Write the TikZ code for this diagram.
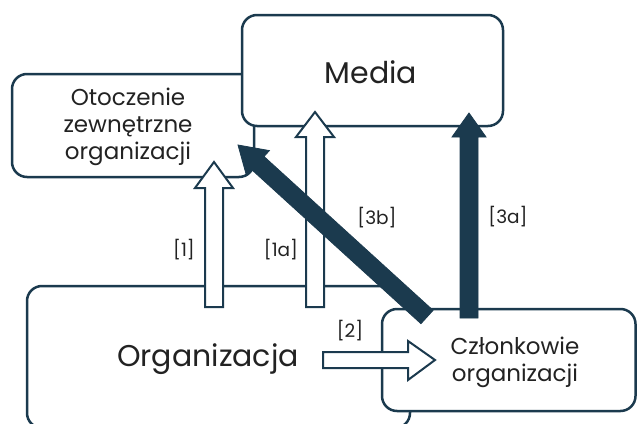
\documentclass[tikz,border=0pt]{standalone}
\usepackage{fontspec}
\setmainfont{Poppins}
\usetikzlibrary{calc}
\definecolor{navy}{HTML}{1B3A4E}
\definecolor{ink}{HTML}{222222}
\begin{document}
\begin{tikzpicture}[x=1pt,y=-1pt,
  box/.style={draw=navy, line width=2.5pt, rounded corners=15pt, fill=white, inner sep=0pt, outer sep=0pt, anchor=north west},
  harrow/.style={draw=navy, line width=2pt, fill=white, line join=miter},
  darrow/.style={draw=navy, fill=navy, line width=0.8pt, line join=miter},
  lbl/.style={text=ink, inner sep=0pt, font=\fontsize{18.5}{20}\selectfont},
  smalltxt/.style={text=ink, inner sep=0pt, align=center, font=\fontsize{23}{27}\selectfont},
  bigtxt/.style={text=ink, inner sep=0pt, font=\fontsize{30}{32}\selectfont}]
\useasboundingbox (0,0) rectangle (637,423);
% boxes
\node[box, minimum width=242pt, minimum height=103pt] (oto) at (12,74) {};
\node[box, minimum width=261pt, minimum height=111pt] (media) at (242,15) {};
\node[box, minimum width=383pt, minimum height=142pt] (org) at (27,286) {};
\node[box, minimum width=253.5pt, minimum height=102pt] (czl) at (382,309) {};
% texts
\node[smalltxt] (ototxt) at (128,127) {Otoczenie\\zewnętrzne\\organizacji};
\node[bigtxt] (mediatxt) at (371,72) {Media};
\node[bigtxt] (orgtxt) at (208,359) {Organizacja};
\node[smalltxt] (czltxt) at (515,362) {Członkowie\\organizacji};
% hollow arrow [1]
\coordinate (t1) at (214,162);
\draw[harrow] (205,307) -- (205,188) -- (195,188) -- (t1) -- (233,188) -- (223,188) -- (223,307) -- cycle;
% hollow arrow [1a]
\coordinate (t1a) at (315,112);
\draw[harrow] (306,307) -- (306,137) -- (296,137) -- (t1a) -- (334,137) -- (324,137) -- (324,307) -- cycle;
% hollow arrow [2]
\coordinate (t2) at (435,360);
\draw[harrow] (323,352) -- (408,352) -- (408,341) -- (t2) -- (408,380) -- (408,368) -- (323,368) -- cycle;
% dark arrow [3a]
\coordinate (t3a) at (469,113);
\draw[darrow] (460,318) -- (460,137) -- (452,137) -- (t3a) -- (486,137) -- (478,137) -- (478,318) -- cycle;
% dark arrow [3b]
\coordinate (t3b) at (238,145);
\coordinate (s3b) at (427,317);
\coordinate (h3b) at ($(t3b)!27pt!(s3b)$);
\draw[darrow] ($(s3b)!9pt!90:(t3b)$) -- ($(h3b)!9pt!90:(t3b)$) -- ($(h3b)!17pt!90:(t3b)$) -- (t3b)
  -- ($(h3b)!17pt!-90:(t3b)$) -- ($(h3b)!9pt!-90:(t3b)$) -- ($(s3b)!9pt!-90:(t3b)$) -- cycle;
% labels
\node[lbl] (l1) at (184,250) {[1]};
\node[lbl] (l1a) at (281,250) {[1a]};
\node[lbl] (l3b) at (377,218) {[3b]};
\node[lbl] (l3a) at (508,217) {[3a]};
\node[lbl] (l2) at (350,331) {[2]};
\end{tikzpicture}
\end{document}
